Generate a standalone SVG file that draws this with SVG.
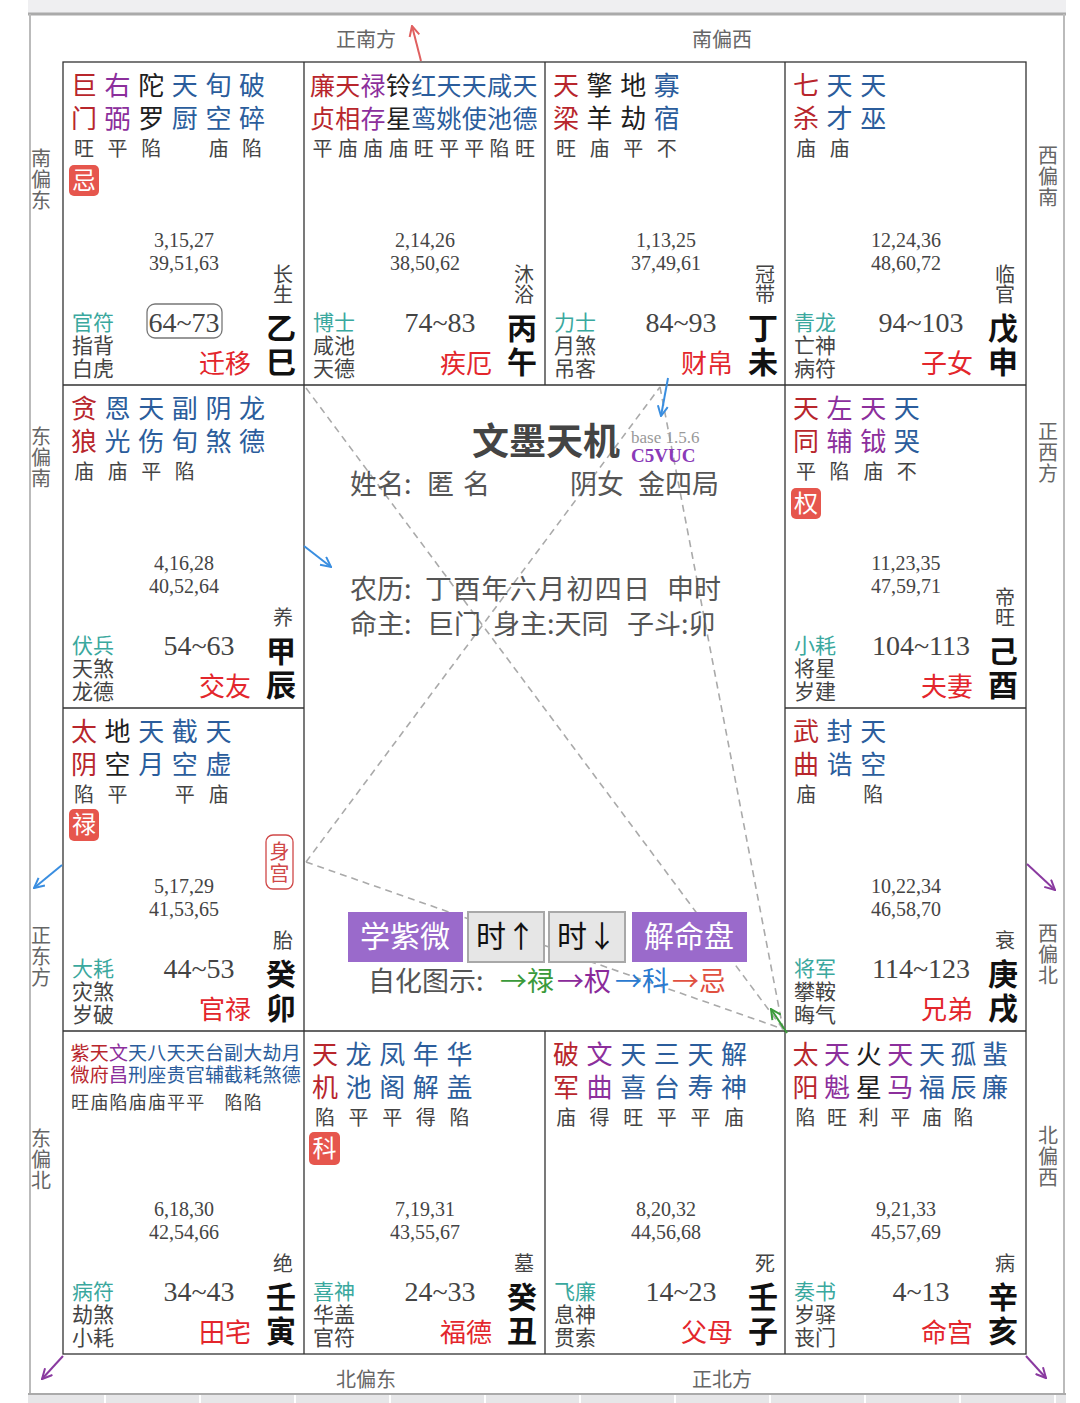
<svg xmlns="http://www.w3.org/2000/svg" width="1080" height="1403" viewBox="0 0 1080 1403">
<style>
text{font-family:"Noto Sans CJK SC","Noto Sans",sans-serif}
.st{font-size:26px;text-anchor:middle}
.st9{font-size:25px;text-anchor:middle}
.st12{font-size:19px;text-anchor:middle}
.r{fill:#b8262c}.p{fill:#8c2f9c}.b{fill:#2b5d9c}.k{fill:#1e1e1e}
.bri{font-size:20px;fill:#444}
.bri12{font-size:18px;fill:#444}
.num{font-family:"Liberation Serif",serif;font-size:20px;fill:#444;text-anchor:middle}
.age{font-family:"Liberation Serif",serif;font-size:28px;fill:#444;text-anchor:middle}
.god{fill:#3aa89e}
.sm{font-size:21px;fill:#444}
.pal{font-size:26px;fill:#e3262c;text-anchor:end}
.stem{font-size:30px;font-weight:bold;fill:#111;text-anchor:middle}
.cs{font-size:20px;font-weight:normal;fill:#444}
.dir{font-size:20px;fill:#666;text-anchor:middle}
.bdg{fill:#e6564d}
.bdt{font-size:24px;fill:#fff;text-anchor:middle}
.shen{font-size:20px;fill:#d04848;text-anchor:middle}
.grid{stroke:#333;stroke-width:1.3;fill:none}
.dash{stroke:#aaa;stroke-width:1.6;stroke-dasharray:7 5;fill:none}
.ctr{font-size:27px;fill:#555}
.title{font-size:37px;font-weight:bold;fill:#444}
.ver{font-family:"Liberation Serif",serif;font-size:17px;fill:#999}
.code{font-family:"Liberation Serif",serif;font-size:19px;font-weight:bold;fill:#8a3ab8}
.btnp{fill:#9a6acb}
.btng{fill:#e6e6e6;stroke:#a8a8a8;stroke-width:2}
.bt{font-size:30px;text-anchor:middle}
</style>
<defs>
<marker id="mr" viewBox="0 0 12 12" refX="11" refY="6" markerWidth="12" markerHeight="12" markerUnits="userSpaceOnUse" orient="auto"><path d="M1,1 L11,6 L1,11" fill="none" stroke="#e06060" stroke-width="2"/></marker>
<marker id="mb" viewBox="0 0 12 12" refX="11" refY="6" markerWidth="12" markerHeight="12" markerUnits="userSpaceOnUse" orient="auto"><path d="M1,1 L11,6 L1,11" fill="none" stroke="#3a8ee0" stroke-width="2"/></marker>
<marker id="mp" viewBox="0 0 12 12" refX="11" refY="6" markerWidth="12" markerHeight="12" markerUnits="userSpaceOnUse" orient="auto"><path d="M1,1 L11,6 L1,11" fill="none" stroke="#8a3aa0" stroke-width="2"/></marker>
<marker id="mg" viewBox="0 0 12 12" refX="11" refY="6" markerWidth="12" markerHeight="12" markerUnits="userSpaceOnUse" orient="auto"><path d="M1,1 L11,6 L1,11" fill="none" stroke="#3a9a3a" stroke-width="2"/></marker>
</defs>
<rect width="1080" height="1403" fill="#fff"/>
<g id="frame">
<rect x="28" y="0" width="1038" height="13" fill="#efeff1"/>
<line x1="28" y1="14" x2="1066" y2="14" stroke="#aaa" stroke-width="3"/>
<line x1="30" y1="14" x2="30" y2="1394" stroke="#bbb" stroke-width="2"/>
<line x1="1064" y1="14" x2="1064" y2="1394" stroke="#bbb" stroke-width="2"/>
<line x1="28" y1="1394" x2="1066" y2="1394" stroke="#aaa" stroke-width="2"/>
<rect x="28" y="1395" width="1038" height="8" fill="#e6e6e8"/>
<path d="M105,1395V1403M200,1395V1403M295,1395V1403M390,1395V1403M485,1395V1403M580,1395V1403M675,1395V1403M770,1395V1403M865,1395V1403M960,1395V1403M1055,1395V1403" stroke="#fff" stroke-width="2"/>
</g>
<g id="directions">
<text class="dir" x="366" y="47">正南方</text>
<text class="dir" x="722" y="47">南偏西</text>
<text class="dir" x="366" y="1387">北偏东</text>
<text class="dir" x="722" y="1387">正北方</text>
<text class="dir" x="41 41 41" y="166 187 208">南偏东</text>
<text class="dir" x="41 41 41" y="444 465 486">东偏南</text>
<text class="dir" x="41 41 41" y="943 964 985">正东方</text>
<text class="dir" x="41 41 41" y="1146 1167 1188">东偏北</text>
<text class="dir" x="1048 1048 1048" y="163 184 205">西偏南</text>
<text class="dir" x="1048 1048 1048" y="439 460 481">正西方</text>
<text class="dir" x="1048 1048 1048" y="941 962 983">西偏北</text>
<text class="dir" x="1048 1048 1048" y="1143 1164 1185">北偏西</text>
</g>
<g id="grid">
<rect class="grid" x="63" y="62" width="963" height="1292"/>
<path class="grid" d="M63,385H1026M63,1031H1026M63,708H304M785,708H1026M304,62V1354M785,62V1354M545,62V385M545,1031V1354"/>
</g>
<g id="connectors">
<line class="dash" x1="306" y1="388" x2="783" y2="1029"/>
<line class="dash" x1="306" y1="862" x2="783" y2="1029"/>
<line class="dash" x1="306" y1="862" x2="660" y2="387"/>
<line class="dash" x1="660" y1="387" x2="783" y2="1029"/>
<line x1="421" y1="61" x2="412" y2="26" stroke="#e06060" stroke-width="2" marker-end="url(#mr)"/>
<line x1="668" y1="378" x2="661" y2="416" stroke="#3a8ee0" stroke-width="2" marker-end="url(#mb)"/>
<line x1="304" y1="546" x2="331" y2="567" stroke="#3a8ee0" stroke-width="2" marker-end="url(#mb)"/>
<line x1="62" y1="865" x2="34" y2="888" stroke="#3a8ee0" stroke-width="2" marker-end="url(#mb)"/>
<line x1="1027" y1="864" x2="1055" y2="890" stroke="#8a3aa0" stroke-width="2" marker-end="url(#mp)"/>
<line x1="63" y1="1356" x2="42" y2="1379" stroke="#8a3aa0" stroke-width="2" marker-end="url(#mp)"/>
<line x1="1026" y1="1356" x2="1046" y2="1378" stroke="#8a3aa0" stroke-width="2" marker-end="url(#mp)"/>
<line x1="787" y1="1033" x2="771" y2="1009" stroke="#3a9a3a" stroke-width="2" marker-end="url(#mg)"/>
</g>
<g id="center">
<text class="title" x="472" y="455">文墨天机</text>
<text class="ver" x="631" y="443">base 1.5.6</text>
<text class="code" x="631" y="462">C5VUC</text>
<text class="ctr" x="350" y="494">姓名:</text>
<text class="ctr" x="427" y="494">匿</text>
<text class="ctr" x="463" y="494">名</text>
<text class="ctr" x="570" y="494">阴女</text>
<text class="ctr" x="638" y="494">金四局</text>
<text class="ctr" x="350" y="599">农历:</text>
<text class="ctr" x="425" y="599" textLength="225" lengthAdjust="spacing">丁酉年六月初四日</text>
<text class="ctr" x="667" y="599">申时</text>
<text class="ctr" x="350" y="634">命主:</text>
<text class="ctr" x="427" y="634">巨门</text>
<text class="ctr" x="493" y="634">身主:天同</text>
<text class="ctr" x="627" y="634">子斗:卯</text>
<rect class="btnp" x="348" y="912" width="115" height="50"/>
<text class="bt" x="405" y="947" fill="#fff">学紫微</text>
<rect class="btng" x="468" y="912" width="76" height="50"/>
<text class="bt" x="506" y="947" fill="#111">时↑</text>
<rect class="btng" x="549" y="912" width="76" height="50"/>
<text class="bt" x="587" y="947" fill="#111">时↓</text>
<rect class="btnp" x="632" y="912" width="115" height="50"/>
<text class="bt" x="689" y="947" fill="#fff">解命盘</text>
<text class="ctr" x="368" y="991">自化图示:</text>
<text x="500" y="991" font-size="27" fill="#3a9a3a">→禄</text>
<text x="557" y="991" font-size="27" fill="#8a2a9a">→权</text>
<text x="615" y="991" font-size="27" fill="#2a7ad0">→科</text>
<text x="672" y="991" font-size="27" fill="#e05040">→忌</text>
</g>
<g id="cell-si" transform="translate(63,62)">
<text class="st"><tspan class="r" x="21 21" y="33 66">巨门</tspan><tspan class="p" x="54.6 54.6" y="33 66">右弼</tspan><tspan class="k" x="88.2 88.2" y="33 66">陀罗</tspan><tspan class="b" x="121.8 121.8" y="33 66">天厨</tspan><tspan class="b" x="155.4 155.4" y="33 66">旬空</tspan><tspan class="b" x="189 189" y="33 66">破碎</tspan><tspan class="bri" x="21 54.6 88.2 155.4 189" y="94">旺平陷庙陷</tspan></text>
<rect class="bdg" x="6" y="103" width="30" height="31" rx="5"/><text class="bdt" x="21" y="127">忌</text>
<text class="num"><tspan x="121" y="185">3,15,27</tspan><tspan x="121" y="208">39,51,63</tspan></text>
<rect x="84" y="242" width="75" height="34" rx="8" fill="none" stroke="#777" stroke-width="1.3"/>
<text class="age" x="121" y="270">64~73</text>
<text class="sm"><tspan class="god" x="9" y="268">官符</tspan><tspan x="9" y="291">指背</tspan><tspan x="9" y="314">白虎</tspan></text>
<text class="pal" x="188" y="311">迁移</text>
<text class="stem"><tspan class="cs" x="220 220" y="220 240">长生</tspan><tspan x="218 218" y="277 311">乙巳</tspan></text>
</g>
<g id="cell-wu" transform="translate(304,62)">
<text class="st9"><tspan class="r" x="18.5 18.5" y="33 66">廉贞</tspan><tspan class="r" x="43.8 43.8" y="33 66">天相</tspan><tspan class="p" x="69.1 69.1" y="33 66">禄存</tspan><tspan class="k" x="94.4 94.4" y="33 66">铃星</tspan><tspan class="b" x="119.7 119.7" y="33 66">红鸾</tspan><tspan class="b" x="145 145" y="33 66">天姚</tspan><tspan class="b" x="170.3 170.3" y="33 66">天使</tspan><tspan class="b" x="195.6 195.6" y="33 66">咸池</tspan><tspan class="b" x="220.9 220.9" y="33 66">天德</tspan><tspan class="bri" x="18.5 43.8 69.1 94.4 119.7 145 170.3 195.6 220.9" y="94">平庙庙庙旺平平陷旺</tspan></text>
<text class="num"><tspan x="121" y="185">2,14,26</tspan><tspan x="121" y="208">38,50,62</tspan></text>
<text class="age" x="136" y="270">74~83</text>
<text class="sm"><tspan class="god" x="9" y="268">博士</tspan><tspan x="9" y="291">咸池</tspan><tspan x="9" y="314">天德</tspan></text>
<text class="pal" x="188" y="311">疾厄</text>
<text class="stem"><tspan class="cs" x="220 220" y="220 240">沐浴</tspan><tspan x="218 218" y="277 311">丙午</tspan></text>
</g>
<g id="cell-wei" transform="translate(545,62)">
<text class="st"><tspan class="r" x="21 21" y="33 66">天梁</tspan><tspan class="k" x="54.6 54.6" y="33 66">擎羊</tspan><tspan class="k" x="88.2 88.2" y="33 66">地劫</tspan><tspan class="b" x="121.8 121.8" y="33 66">寡宿</tspan><tspan class="bri" x="21 54.6 88.2 121.8" y="94">旺庙平不</tspan></text>
<text class="num"><tspan x="121" y="185">1,13,25</tspan><tspan x="121" y="208">37,49,61</tspan></text>
<text class="age" x="136" y="270">84~93</text>
<text class="sm"><tspan class="god" x="9" y="268">力士</tspan><tspan x="9" y="291">月煞</tspan><tspan x="9" y="314">吊客</tspan></text>
<text class="pal" x="188" y="311">财帛</text>
<text class="stem"><tspan class="cs" x="220 220" y="220 240">冠带</tspan><tspan x="218 218" y="277 311">丁未</tspan></text>
</g>
<g id="cell-shen" transform="translate(785,62)">
<text class="st"><tspan class="r" x="21 21" y="33 66">七杀</tspan><tspan class="b" x="54.6 54.6" y="33 66">天才</tspan><tspan class="b" x="88.2 88.2" y="33 66">天巫</tspan><tspan class="bri" x="21 54.6" y="94">庙庙</tspan></text>
<text class="num"><tspan x="121" y="185">12,24,36</tspan><tspan x="121" y="208">48,60,72</tspan></text>
<text class="age" x="136" y="270">94~103</text>
<text class="sm"><tspan class="god" x="9" y="268">青龙</tspan><tspan x="9" y="291">亡神</tspan><tspan x="9" y="314">病符</tspan></text>
<text class="pal" x="188" y="311">子女</text>
<text class="stem"><tspan class="cs" x="220 220" y="220 240">临官</tspan><tspan x="218 218" y="277 311">戊申</tspan></text>
</g>
<g id="cell-chen" transform="translate(63,385)">
<text class="st"><tspan class="r" x="21 21" y="33 66">贪狼</tspan><tspan class="b" x="54.6 54.6" y="33 66">恩光</tspan><tspan class="b" x="88.2 88.2" y="33 66">天伤</tspan><tspan class="b" x="121.8 121.8" y="33 66">副旬</tspan><tspan class="b" x="155.4 155.4" y="33 66">阴煞</tspan><tspan class="b" x="189 189" y="33 66">龙德</tspan><tspan class="bri" x="21 54.6 88.2 121.8" y="94">庙庙平陷</tspan></text>
<text class="num"><tspan x="121" y="185">4,16,28</tspan><tspan x="121" y="208">40,52,64</tspan></text>
<text class="age" x="136" y="270">54~63</text>
<text class="sm"><tspan class="god" x="9" y="268">伏兵</tspan><tspan x="9" y="291">天煞</tspan><tspan x="9" y="314">龙德</tspan></text>
<text class="pal" x="188" y="311">交友</text>
<text class="stem"><tspan class="cs" x="220" y="240">养</tspan><tspan x="218 218" y="277 311">甲辰</tspan></text>
</g>
<g id="cell-you" transform="translate(785,385)">
<text class="st"><tspan class="r" x="21 21" y="33 66">天同</tspan><tspan class="p" x="54.6 54.6" y="33 66">左辅</tspan><tspan class="p" x="88.2 88.2" y="33 66">天钺</tspan><tspan class="b" x="121.8 121.8" y="33 66">天哭</tspan><tspan class="bri" x="21 54.6 88.2 121.8" y="94">平陷庙不</tspan></text>
<rect class="bdg" x="6" y="103" width="30" height="31" rx="5"/><text class="bdt" x="21" y="127">权</text>
<text class="num"><tspan x="121" y="185">11,23,35</tspan><tspan x="121" y="208">47,59,71</tspan></text>
<text class="age" x="136" y="270">104~113</text>
<text class="sm"><tspan class="god" x="9" y="268">小耗</tspan><tspan x="9" y="291">将星</tspan><tspan x="9" y="314">岁建</tspan></text>
<text class="pal" x="188" y="311">夫妻</text>
<text class="stem"><tspan class="cs" x="220 220" y="220 240">帝旺</tspan><tspan x="218 218" y="277 311">己酉</tspan></text>
</g>
<g id="cell-mao" transform="translate(63,708)">
<text class="st"><tspan class="r" x="21 21" y="33 66">太阴</tspan><tspan class="k" x="54.6 54.6" y="33 66">地空</tspan><tspan class="b" x="88.2 88.2" y="33 66">天月</tspan><tspan class="b" x="121.8 121.8" y="33 66">截空</tspan><tspan class="b" x="155.4 155.4" y="33 66">天虚</tspan><tspan class="bri" x="21 54.6 121.8 155.4" y="94">陷平平庙</tspan></text>
<rect class="bdg" x="6" y="101" width="30" height="32" rx="5"/><text class="bdt" x="21" y="125">禄</text>
<rect x="203" y="127" width="27" height="54" rx="7" fill="none" stroke="#d04848" stroke-width="1.3"/>
<text class="shen" x="216.5 216.5" y="151 173">身宫</text>
<text class="num"><tspan x="121" y="185">5,17,29</tspan><tspan x="121" y="208">41,53,65</tspan></text>
<text class="age" x="136" y="270">44~53</text>
<text class="sm"><tspan class="god" x="9" y="268">大耗</tspan><tspan x="9" y="291">灾煞</tspan><tspan x="9" y="314">岁破</tspan></text>
<text class="pal" x="188" y="311">官禄</text>
<text class="stem"><tspan class="cs" x="220" y="240">胎</tspan><tspan x="218 218" y="277 311">癸卯</tspan></text>
</g>
<g id="cell-xu" transform="translate(785,708)">
<text class="st"><tspan class="r" x="21 21" y="33 66">武曲</tspan><tspan class="b" x="54.6 54.6" y="33 66">封诰</tspan><tspan class="b" x="88.2 88.2" y="33 66">天空</tspan><tspan class="bri" x="21 88.2" y="94">庙陷</tspan></text>
<text class="num"><tspan x="121" y="185">10,22,34</tspan><tspan x="121" y="208">46,58,70</tspan></text>
<text class="age" x="136" y="270">114~123</text>
<text class="sm"><tspan class="god" x="9" y="268">将军</tspan><tspan x="9" y="291">攀鞍</tspan><tspan x="9" y="314">晦气</tspan></text>
<text class="pal" x="188" y="311">兄弟</text>
<text class="stem"><tspan class="cs" x="220" y="240">衰</tspan><tspan x="218 218" y="277 311">庚戌</tspan></text>
</g>
<g id="cell-yin" transform="translate(63,1031)">
<text class="st12"><tspan class="r" x="17 17" y="29 51">紫微</tspan><tspan class="r" x="36.2 36.2" y="29 51">天府</tspan><tspan class="p" x="55.4 55.4" y="29 51">文昌</tspan><tspan class="b" x="74.6 74.6" y="29 51">天刑</tspan><tspan class="b" x="93.8 93.8" y="29 51">八座</tspan><tspan class="b" x="113 113" y="29 51">天贵</tspan><tspan class="b" x="132.2 132.2" y="29 51">天官</tspan><tspan class="b" x="151.4 151.4" y="29 51">台辅</tspan><tspan class="b" x="170.6 170.6" y="29 51">副截</tspan><tspan class="b" x="189.8 189.8" y="29 51">大耗</tspan><tspan class="b" x="209 209" y="29 51">劫煞</tspan><tspan class="b" x="228.2 228.2" y="29 51">月德</tspan><tspan class="bri12" x="17 36.2 55.4 74.6 93.8 113 132.2 170.6 189.8" y="78">旺庙陷庙庙平平陷陷</tspan></text>
<text class="num"><tspan x="121" y="185">6,18,30</tspan><tspan x="121" y="208">42,54,66</tspan></text>
<text class="age" x="136" y="270">34~43</text>
<text class="sm"><tspan class="god" x="9" y="268">病符</tspan><tspan x="9" y="291">劫煞</tspan><tspan x="9" y="314">小耗</tspan></text>
<text class="pal" x="188" y="311">田宅</text>
<text class="stem"><tspan class="cs" x="220" y="240">绝</tspan><tspan x="218 218" y="277 311">壬寅</tspan></text>
</g>
<g id="cell-chou" transform="translate(304,1031)">
<text class="st"><tspan class="r" x="21 21" y="33 66">天机</tspan><tspan class="b" x="54.6 54.6" y="33 66">龙池</tspan><tspan class="b" x="88.2 88.2" y="33 66">凤阁</tspan><tspan class="b" x="121.8 121.8" y="33 66">年解</tspan><tspan class="b" x="155.4 155.4" y="33 66">华盖</tspan><tspan class="bri" x="21 54.6 88.2 121.8 155.4" y="94">陷平平得陷</tspan></text>
<rect class="bdg" x="5" y="101" width="31" height="33" rx="5"/><text class="bdt" x="20.5" y="126">科</text>
<text class="num"><tspan x="121" y="185">7,19,31</tspan><tspan x="121" y="208">43,55,67</tspan></text>
<text class="age" x="136" y="270">24~33</text>
<text class="sm"><tspan class="god" x="9" y="268">喜神</tspan><tspan x="9" y="291">华盖</tspan><tspan x="9" y="314">官符</tspan></text>
<text class="pal" x="188" y="311">福德</text>
<text class="stem"><tspan class="cs" x="220" y="240">墓</tspan><tspan x="218 218" y="277 311">癸丑</tspan></text>
</g>
<g id="cell-zi" transform="translate(545,1031)">
<text class="st"><tspan class="r" x="21 21" y="33 66">破军</tspan><tspan class="p" x="54.6 54.6" y="33 66">文曲</tspan><tspan class="b" x="88.2 88.2" y="33 66">天喜</tspan><tspan class="b" x="121.8 121.8" y="33 66">三台</tspan><tspan class="b" x="155.4 155.4" y="33 66">天寿</tspan><tspan class="b" x="189 189" y="33 66">解神</tspan><tspan class="bri" x="21 54.6 88.2 121.8 155.4 189" y="94">庙得旺平平庙</tspan></text>
<text class="num"><tspan x="121" y="185">8,20,32</tspan><tspan x="121" y="208">44,56,68</tspan></text>
<text class="age" x="136" y="270">14~23</text>
<text class="sm"><tspan class="god" x="9" y="268">飞廉</tspan><tspan x="9" y="291">息神</tspan><tspan x="9" y="314">贯索</tspan></text>
<text class="pal" x="188" y="311">父母</text>
<text class="stem"><tspan class="cs" x="220" y="240">死</tspan><tspan x="218 218" y="277 311">壬子</tspan></text>
</g>
<g id="cell-hai" transform="translate(785,1031)">
<text class="st"><tspan class="r" x="20.5 20.5" y="33 66">太阳</tspan><tspan class="p" x="52.1 52.1" y="33 66">天魁</tspan><tspan class="k" x="83.7 83.7" y="33 66">火星</tspan><tspan class="p" x="115.3 115.3" y="33 66">天马</tspan><tspan class="b" x="146.9 146.9" y="33 66">天福</tspan><tspan class="b" x="178.5 178.5" y="33 66">孤辰</tspan><tspan class="b" x="210.1 210.1" y="33 66">蜚廉</tspan><tspan class="bri" x="20.5 52.1 83.7 115.3 146.9 178.5" y="94">陷旺利平庙陷</tspan></text>
<text class="num"><tspan x="121" y="185">9,21,33</tspan><tspan x="121" y="208">45,57,69</tspan></text>
<text class="age" x="136" y="270">4~13</text>
<text class="sm"><tspan class="god" x="9" y="268">奏书</tspan><tspan x="9" y="291">岁驿</tspan><tspan x="9" y="314">丧门</tspan></text>
<text class="pal" x="188" y="311">命宫</text>
<text class="stem"><tspan class="cs" x="220" y="240">病</tspan><tspan x="218 218" y="277 311">辛亥</tspan></text>
</g>
</svg>
